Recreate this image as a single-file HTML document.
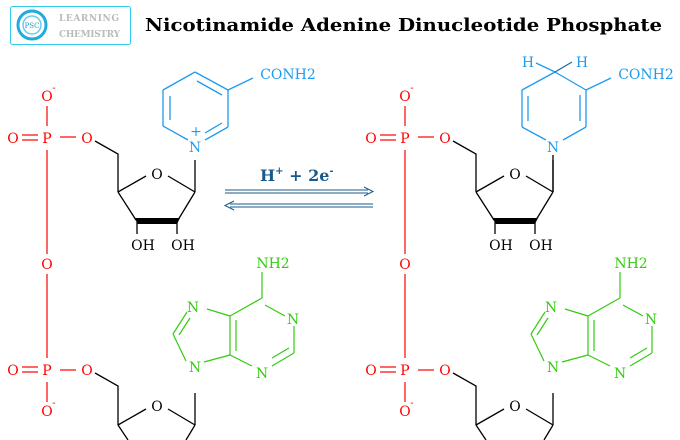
<!DOCTYPE html>
<html><head><meta charset="utf-8"><style>
html,body{margin:0;padding:0;background:#fff;width:680px;height:440px;overflow:hidden}
text{font-family:"DejaVu Serif","Liberation Serif",serif}
</style></head><body>
<svg width="680" height="440" viewBox="0 0 680 440" xmlns="http://www.w3.org/2000/svg">
<defs>
<g id="mol">
  <g fill="#f00" stroke="none" font-size="14" text-anchor="middle">
    <text x="47" y="101">O</text><text x="54" y="91" font-size="10">-</text>
    <text x="47" y="143">P</text>
    <text x="13" y="143">O</text>
    <text x="87" y="143">O</text>
    <text x="47" y="269">O</text>
    <text x="47" y="375">P</text>
    <text x="13" y="375">O</text>
    <text x="87" y="375">O</text>
    <text x="47" y="416">O</text><text x="54" y="406" font-size="10">-</text>
  </g>
  <g stroke="#f00" stroke-width="1.2" fill="none">
    <line x1="47" y1="106" x2="47" y2="126"/>
    <line x1="22" y1="135" x2="38" y2="135"/><line x1="22" y1="140" x2="38" y2="140"/>
    <line x1="60" y1="137" x2="76" y2="137"/>
    <line x1="47" y1="150" x2="47" y2="254"/>
    <line x1="47" y1="274" x2="47" y2="358"/>
    <line x1="22" y1="367" x2="38" y2="367"/><line x1="22" y1="372" x2="38" y2="372"/>
    <line x1="60" y1="370" x2="76" y2="370"/>
    <line x1="47" y1="382" x2="47" y2="402"/>
  </g>
  <g stroke="#000" stroke-width="1.3" fill="none">
    <polyline points="95,141 118,154 118,192"/>
    <line x1="118" y1="192" x2="146" y2="176"/>
    <line x1="168" y1="176" x2="195" y2="192"/>
    <line x1="118" y1="192" x2="136" y2="220"/>
    <line x1="195" y1="192" x2="178" y2="220"/>
    <line x1="137" y1="222" x2="137" y2="234"/>
    <line x1="177" y1="222" x2="177" y2="234"/>
    <line x1="195" y1="192" x2="195" y2="160"/>
    <polyline points="95,373 118,386 118,425"/>
    <line x1="118" y1="425" x2="146" y2="409"/>
    <line x1="168" y1="409" x2="195" y2="425"/>
    <line x1="195" y1="425" x2="195" y2="393"/>
    <line x1="118" y1="425" x2="128" y2="440"/>
    <line x1="195" y1="425" x2="186" y2="440"/>
  </g>
  <polygon points="134,218 180,218 177,224 138,224" fill="#000"/>
  <g fill="#000" font-size="14" text-anchor="middle">
    <text x="157" y="179">O</text>
    <text x="143" y="250">OH</text><text x="183" y="250">OH</text>
    <text x="157" y="411">O</text>
  </g>
  <g stroke="#33cc11" stroke-width="1.2" fill="none">
    <line x1="207" y1="309" x2="230" y2="316"/>
    <line x1="230" y1="316" x2="262" y2="298"/>
    <line x1="262" y1="298" x2="262" y2="272"/>
    <line x1="265" y1="305" x2="285" y2="316"/>
    <line x1="294" y1="326" x2="294" y2="353"/>
    <line x1="294" y1="353" x2="272" y2="366"/>
    <line x1="289" y1="348" x2="272" y2="358"/>
    <line x1="252" y1="366" x2="230" y2="355"/>
    <line x1="230" y1="316" x2="230" y2="355"/>
    <line x1="236" y1="320" x2="236" y2="351"/>
    <line x1="230" y1="355" x2="204" y2="362"/>
    <line x1="186" y1="361" x2="173" y2="334"/>
    <line x1="173" y1="334" x2="187" y2="312"/>
    <line x1="179" y1="335" x2="190" y2="318"/>
  </g>
  <g fill="#33cc11" font-size="14" text-anchor="middle">
    <text x="273" y="268">NH2</text>
    <text x="193" y="312">N</text>
    <text x="293" y="324">N</text>
    <text x="195" y="372">N</text>
    <text x="262" y="378">N</text>
  </g>
</g>
</defs>

<rect x="10.5" y="6.5" width="120" height="38" rx="2" fill="#fff" stroke="#33ccee" stroke-width="1"/>
<circle cx="32" cy="25" r="14" fill="none" stroke="#22aadd" stroke-width="3"/>
<circle cx="32" cy="25" r="9" fill="none" stroke="#66ccee" stroke-width="1.5"/>
<text x="32" y="28" font-size="7" fill="#2299cc" text-anchor="middle">PSC</text>
<text x="59" y="21" font-size="9" fill="#bbb" font-weight="bold" textLength="60">LEARNING</text>
<text x="59" y="37" font-size="9" fill="#bbb" font-weight="bold" textLength="61">CHEMISTRY</text>
<text x="145" y="31" font-size="18" font-weight="bold" fill="#000" textLength="517" lengthAdjust="spacingAndGlyphs">Nicotinamide Adenine Dinucleotide Phosphate</text>

<use href="#mol"/>
<use href="#mol" transform="translate(358,0)"/>

<g stroke="#1e9bef" stroke-width="1.3" fill="none">
  <line x1="188" y1="140" x2="163" y2="126"/>
  <line x1="163" y1="126" x2="163" y2="90"/>
  <line x1="170" y1="120" x2="170" y2="96"/>
  <line x1="163" y1="90" x2="195" y2="72"/>
  <line x1="195" y1="72" x2="228" y2="90"/>
  <line x1="197" y1="81" x2="222" y2="95"/>
  <line x1="228" y1="90" x2="228" y2="127"/>
  <line x1="228" y1="127" x2="205" y2="140"/>
  <line x1="222" y1="123" x2="205" y2="133"/>
  <line x1="228" y1="90" x2="253" y2="78"/>
</g>
<g fill="#1e9bef" font-size="14" text-anchor="middle">
  <text x="195" y="152">N</text><text x="196" y="136" font-size="14">+</text>
  <text x="288" y="79">CONH2</text>
</g>

<g stroke="#1e9bef" stroke-width="1.3" fill="none">
  <line x1="546" y1="140" x2="522" y2="127"/>
  <line x1="522" y1="127" x2="522" y2="90"/>
  <line x1="528" y1="121" x2="528" y2="96"/>
  <line x1="522" y1="90" x2="555" y2="72"/>
  <line x1="555" y1="72" x2="586" y2="90"/>
  <line x1="586" y1="90" x2="586" y2="127"/>
  <line x1="580" y1="95" x2="580" y2="121"/>
  <line x1="586" y1="127" x2="563" y2="140"/>
  <line x1="586" y1="90" x2="611" y2="78"/>
  <line x1="555" y1="72" x2="536" y2="63"/>
</g>
<line x1="555" y1="72" x2="572" y2="62" stroke="#1e6a9a" stroke-width="1.3"/>
<g fill="#1e9bef" font-size="14" text-anchor="middle">
  <text x="553" y="152">N</text>
  <text x="528" y="67">H</text><text x="582" y="67">H</text>
  <text x="646" y="79">CONH2</text>
</g>
<line x1="553" y1="155" x2="553" y2="192" stroke="#000" stroke-width="1.3"/>

<text x="260" y="181" font-size="16" font-weight="bold" fill="#1a5a8a">H<tspan font-size="10" dy="-7">+</tspan><tspan dy="7"> + 2e</tspan><tspan font-size="10" dy="-7">-</tspan></text>
<g stroke="#1a5a8a" stroke-width="1" fill="none">
  <line x1="225" y1="190" x2="368" y2="190"/><line x1="225" y1="193" x2="368" y2="193"/>
  <polyline points="364,187 373,191.5 364,196"/>
  <line x1="230" y1="204" x2="373" y2="204"/><line x1="230" y1="207" x2="373" y2="207"/>
  <polyline points="234,201 225,205.5 234,210"/>
</g>
</svg>
</body></html>
